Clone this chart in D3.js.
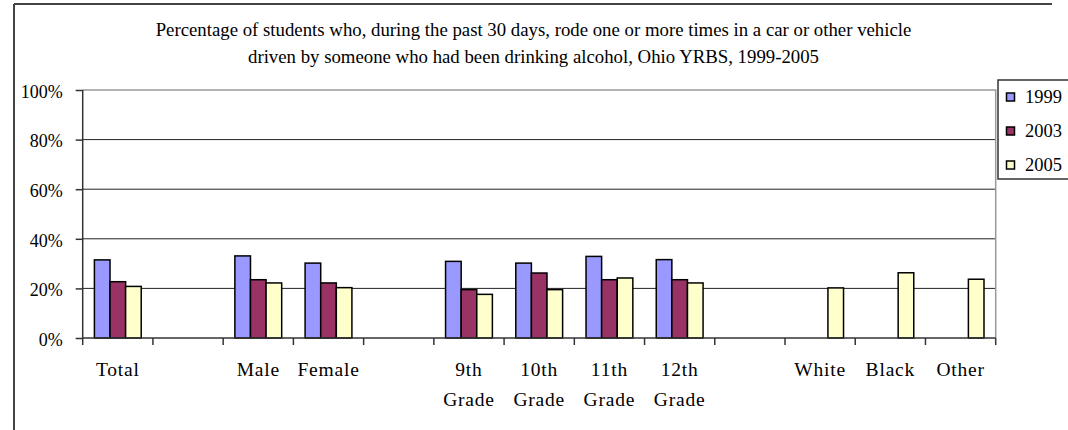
<!DOCTYPE html>
<html><head><meta charset="utf-8">
<script src="https://cdn.jsdelivr.net/npm/d3@7"></script>
<style>
html,body{margin:0;padding:0;background:#fff;}
svg{display:block;}
text{font-family:"Liberation Serif","Times New Roman",serif;fill:#000;}
</style></head>
<body>
<svg id="chart" width="1068" height="430"></svg>
<script>
const titleLines = ["Percentage of students who, during the past 30 days, rode one or more times in a car or other vehicle",
                    "driven by someone who had been drinking alcohol, Ohio YRBS, 1999-2005"];
const categories = ["Total", "", "Male", "Female", "", "9th|Grade", "10th|Grade", "11th|Grade", "12th|Grade", "", "White", "Black", "Other"];
const seriesNames = ["1999", "2003", "2005"];
const v1999 = [31.5, null, 33.1, 30.2, null, 30.9, 30.2, 32.9, 31.6, null, null, null, null];
const v2003 = [22.7, null, 23.5, 22.2, null, 19.5, 26.2, 23.5, 23.5, null, null, null, null];
const v2005 = [20.8, null, 22.2, 20.3, null, 17.6, 19.5, 24.2, 22.2, null, 20.2, 26.3, 23.7];
const yTicks = [0, 20, 40, 60, 80, 100];
const colors = ["#9999FF", "#993366", "#FFFFCC"];

const svg = d3.select("#chart");
const plot = {left: 82.7, right: 995.7, top: 90, bottom: 338};
const values = [v1999, v2003, v2005];

// outer frame (top and left)
svg.append("line").attr("x1", 14).attr("x2", 1052).attr("y1", 4).attr("y2", 4).attr("stroke", "#444").attr("stroke-width", 2);
svg.append("line").attr("x1", 14).attr("x2", 14).attr("y1", 4).attr("y2", 430).attr("stroke", "#444").attr("stroke-width", 2);

// title
svg.append("g").selectAll("text").data(titleLines).join("text")
  .attr("x", 533.5).attr("y", (d, i) => 36 + i * 27)
  .attr("text-anchor", "middle").style("font-size", "18.8px")
  .text(d => d);

const x0 = d3.scaleBand().domain(d3.range(categories.length)).range([plot.left, plot.right]).padding(0);
const x1 = d3.scaleBand().domain(seriesNames).range([0, x0.bandwidth()]).paddingInner(0).paddingOuter(0.75);
const y = d3.scaleLinear().domain([0, 100]).range([plot.bottom, plot.top]);

// gridlines
svg.append("g").selectAll("line").data(yTicks.filter(t => t > 0 && t < 100)).join("line")
  .attr("x1", plot.left).attr("x2", plot.right)
  .attr("y1", d => y(d)).attr("y2", d => y(d))
  .attr("stroke", "#222").attr("stroke-width", 1);

// plot border top & right (gray)
svg.append("path")
  .attr("d", `M${plot.left},${y(100)}H${plot.right}V${plot.bottom}`)
  .attr("fill", "none").attr("stroke", "#999").attr("stroke-width", 1.5);

// bars
const bars = [];
values.forEach((arr, si) => arr.forEach((v, ci) => { if (v != null) bars.push({ci, si, v}); }));
svg.append("g").selectAll("rect").data(bars).join("rect")
  .attr("x", d => x0(d.ci) + x1(seriesNames[d.si]))
  .attr("width", x1.bandwidth())
  .attr("y", d => y(d.v))
  .attr("height", d => y(0) - y(d.v))
  .attr("fill", d => colors[d.si])
  .attr("stroke", "#000").attr("stroke-width", 1.5);

// y axis
const yAxis = svg.append("g").attr("transform", `translate(${plot.left},0)`)
  .call(d3.axisLeft(y).tickValues(yTicks).tickFormat(d => d + "%").tickSize(7).tickPadding(13));
yAxis.select(".domain").attr("stroke", "#333").attr("stroke-width", 1.5).attr("d", `M0,${y(100)}V${y(0)}`);
yAxis.selectAll(".tick line").attr("stroke", "#333").attr("stroke-width", 1.5);
yAxis.selectAll(".tick text").style("font-size", "18px").attr("font-family", null).attr("dy", "0.4em");

// x axis
const xAxisG = svg.append("g");
xAxisG.append("line").attr("x1", plot.left).attr("x2", plot.right).attr("y1", y(0)).attr("y2", y(0))
  .attr("stroke", "#333").attr("stroke-width", 1.5);
const boundaries = d3.range(categories.length + 1).map(i => i < categories.length ? x0(i) : x0(i - 1) + x0.bandwidth());
xAxisG.selectAll("line.tk").data(boundaries).join("line").attr("class", "tk")
  .attr("x1", d => d).attr("x2", d => d).attr("y1", y(0)).attr("y2", y(0) + 7)
  .attr("stroke", "#333").attr("stroke-width", 1.5);
const labels = xAxisG.selectAll("text").data(categories.map((c, i) => ({c, i})).filter(d => d.c)).join("text")
  .attr("x", d => x0(d.i) + x0.bandwidth() / 2)
  .attr("y", 376).attr("text-anchor", "middle").style("font-size", "19.5px").style("letter-spacing", "0.8px");
labels.selectAll("tspan").data(d => d.c.split("|").map(s => ({s, x: x0(d.i) + x0.bandwidth() / 2}))).join("tspan")
  .attr("x", d => d.x).attr("dy", (d, i) => i === 0 ? 0 : 30).text(d => d.s);

// legend
const lg = svg.append("g");
lg.append("rect").attr("x", 998).attr("y", 80).attr("width", 80).attr("height", 99)
  .attr("fill", "#fff").attr("stroke", "#333").attr("stroke-width", 1.5);
const items = lg.selectAll("g.it").data(seriesNames).join("g").attr("class", "it")
  .attr("transform", (d, i) => `translate(0,${97 + i * 34})`);
items.append("rect").attr("x", 1006.5).attr("y", -4).attr("width", 8).attr("height", 8)
  .attr("fill", (d, i) => colors[i]).attr("stroke", "#000").attr("stroke-width", 1.5);
items.append("text").attr("x", 1025).attr("y", 0).attr("dy", "0.35em").style("font-size", "18.5px").text(d => d);
</script>
</body></html>
